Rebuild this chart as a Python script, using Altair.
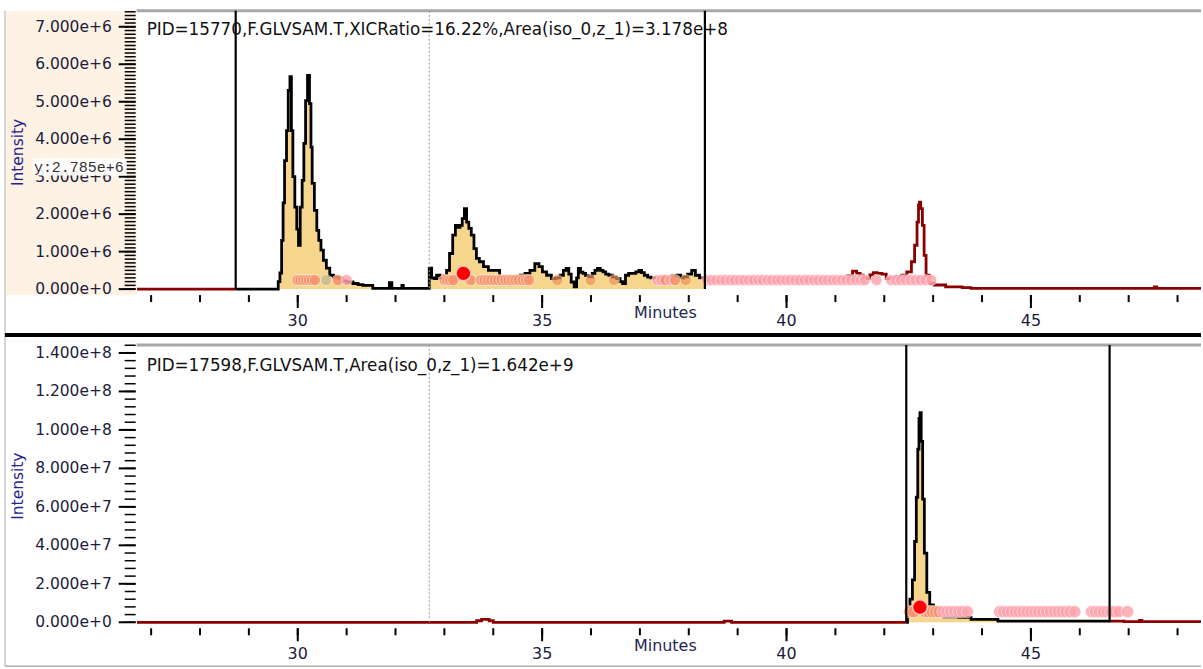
import altair as alt
import pandas as pd

# ---------------------------------------------------------------
# Extracted ion chromatograms, (minutes, intensity in units of 1e6)
# ---------------------------------------------------------------
xic1 = [
    (26.71, 0.0), (28.73, 0.0), (29.58, 0.0), (29.62, 0.2), (29.65, 0.43),
    (29.69, 1.3), (29.71, 2.3), (29.75, 3.43), (29.79, 4.23), (29.82, 5.3),
    (29.86, 5.67), (29.88, 4.23), (29.92, 3.0), (29.96, 2.19), (30.0, 1.6),
    (30.03, 1.17), (30.07, 2.19), (30.11, 2.9), (30.14, 3.89), (30.18, 5.03),
    (30.22, 5.7), (30.26, 4.95), (30.28, 3.79), (30.31, 2.82), (30.37, 2.1),
    (30.41, 1.57), (30.45, 1.3), (30.5, 1.04), (30.55, 0.77), (30.62, 0.56),
    (30.69, 0.37), (30.78, 0.32), (30.86, 0.29), (30.95, 0.22), (31.06, 0.19),
    (31.2, 0.15), (31.27, 0.12), (31.4, 0.1), (31.5, 0.1), (31.57, 0.02),
    (31.85, 0.02), (31.9, 0.17), (31.95, 0.02), (32.12, 0.02), (32.14, 0.1),
    (32.18, 0.02), (32.66, 0.02), (32.72, 0.56), (32.76, 0.3), (32.82, 0.28),
    (32.86, 0.37), (32.96, 0.29), (33.02, 0.35), (33.07, 0.5), (33.14, 0.95),
    (33.2, 1.44), (33.25, 1.7), (33.3, 1.65), (33.34, 1.7), (33.39, 1.88),
    (33.43, 2.15), (33.48, 1.79), (33.52, 1.62), (33.58, 1.44), (33.63, 1.08),
    (33.68, 0.82), (33.75, 0.73), (33.85, 0.6), (33.95, 0.5), (34.12, 0.5),
    (34.14, 0.3), (34.26, 0.28), (34.4, 0.3), (34.5, 0.33), (34.6, 0.37),
    (34.7, 0.42), (34.8, 0.5), (34.9, 0.68), (34.97, 0.6), (35.04, 0.46),
    (35.14, 0.37), (35.24, 0.28), (35.32, 0.3), (35.41, 0.37), (35.46, 0.5),
    (35.52, 0.55), (35.57, 0.4), (35.62, 0.19), (35.69, 0.06), (35.72, 0.3),
    (35.76, 0.55), (35.81, 0.45), (35.86, 0.42), (35.92, 0.36), (35.99, 0.33),
    (36.06, 0.42), (36.1, 0.5), (36.16, 0.55), (36.22, 0.5), (36.27, 0.46),
    (36.33, 0.4), (36.4, 0.37), (36.48, 0.32), (36.57, 0.28), (36.62, 0.2),
    (36.67, 0.15), (36.74, 0.37), (36.8, 0.42), (36.88, 0.42), (36.95, 0.46),
    (37.01, 0.5), (37.06, 0.44), (37.12, 0.37), (37.2, 0.32), (37.25, 0.3),
    (37.35, 0.3), (37.45, 0.26), (37.52, 0.28), (37.6, 0.3), (37.7, 0.35),
    (37.8, 0.37), (37.86, 0.3), (37.93, 0.33), (38.02, 0.4), (38.1, 0.5),
    (38.17, 0.37), (38.27, 0.3), (38.33, 0.3), (38.45, 0.25), (38.6, 0.22),
    (38.8, 0.26), (39.0, 0.22), (39.2, 0.24), (39.4, 0.2), (39.6, 0.26),
    (39.8, 0.22), (40.0, 0.28), (40.2, 0.24), (40.4, 0.22), (40.6, 0.26),
    (40.8, 0.24), (41.0, 0.28), (41.2, 0.3), (41.3, 0.36), (41.4, 0.48),
    (41.47, 0.42), (41.54, 0.37), (41.6, 0.3), (41.67, 0.28), (41.74, 0.38),
    (41.81, 0.44), (41.9, 0.42), (42.0, 0.4), (42.08, 0.28), (42.2, 0.3),
    (42.3, 0.33), (42.4, 0.37), (42.52, 0.46), (42.59, 0.73), (42.65, 1.17),
    (42.69, 1.79), (42.71, 2.25), (42.73, 2.32), (42.76, 2.15), (42.8, 1.7),
    (42.83, 0.9), (42.88, 0.37), (42.97, 0.15), (43.07, 0.11), (43.44, 0.06),
    (43.75, 0.04), (43.8, 0.02), (47.5, 0.02), (47.55, 0.06), (47.6, 0.02),
    (48.48, 0.02),
]

xic2 = [
    (26.71, 0.0), (33.6, 0.0), (33.72, 0.8), (33.8, 1.5), (33.88, 1.5),
    (33.95, 0.8), (34.05, 0.0), (38.7, 0.0), (38.75, 0.6), (38.85, 0.6),
    (38.9, 0.0), (42.45, 0.0), (42.5, 4.0), (42.55, 12.0), (42.6, 22.0),
    (42.64, 42.0), (42.67, 65.0), (42.7, 90.0), (42.72, 106.0), (42.74, 109.0),
    (42.77, 94.0), (42.8, 64.0), (42.84, 36.0), (42.9, 15.5), (42.96, 9.0),
    (43.05, 5.0), (43.15, 3.5), (43.3, 2.8), (43.75, 2.6), (43.8, 1.5),
    (44.3, 1.5), (44.35, 0.6), (46.61, 0.6), (47.2, 0.3), (47.24, 1.0),
    (47.3, 0.3), (48.48, 0.3),
]

# integration window (start, end) and the dotted reference time
window1 = [28.73, 38.33]
window2 = [42.45, 46.61]
ref_time = 32.69

# isotope-envelope scan markers: (minutes, kind)
scans1 = [
    (29.99, "s"), (30.05, "s"), (30.11, "s"), (30.17, "s"), (30.23, "s"),
    (30.29, "s"), (30.35, "s"), (30.58, "o"), (30.82, "s"), (31.0, "p"),
    (33.0, "s"), (33.06, "s"), (33.12, "s"), (33.18, "s"), (33.54, "s"),
    (33.75, "s"), (33.82, "s"), (33.89, "s"), (33.96, "s"), (34.03, "s"),
    (34.1, "s"), (34.17, "s"), (34.24, "s"), (34.31, "s"), (34.38, "s"),
    (34.45, "s"), (34.52, "s"), (34.6, "s"), (34.67, "s"), (34.73, "s"),
    (35.31, "r"), (35.99, "r"), (36.47, "r"), (37.36, "p"), (37.44, "p"),
    (37.52, "s"), (37.62, "p"), (37.72, "s"), (37.94, "r"), (38.37, "p"),
    (38.47, "p"), (38.56, "p"), (38.66, "p"), (38.75, "p"), (38.85, "p"),
    (38.94, "p"), (39.04, "p"), (39.13, "p"), (39.23, "p"), (39.32, "p"),
    (39.42, "p"), (39.51, "p"), (39.61, "p"), (39.7, "p"), (39.8, "p"),
    (39.89, "p"), (39.99, "p"), (40.08, "p"), (40.18, "p"), (40.27, "p"),
    (40.37, "p"), (40.46, "p"), (40.56, "p"), (40.65, "p"), (40.75, "p"),
    (40.84, "p"), (40.94, "p"), (41.03, "p"), (41.13, "p"), (41.22, "p"),
    (41.32, "p"), (41.42, "p"), (41.52, "p"), (41.6, "p"), (41.84, "p"),
    (42.14, "p"), (42.24, "p"), (42.34, "p"), (42.44, "p"), (42.54, "p"),
    (42.64, "p"), (42.74, "p"), (42.84, "p"), (42.96, "p"),
]
scans2 = [
    (42.52, "s"), (42.6, "s"), (42.84, "s"), (42.91, "s"), (42.98, "s"),
    (43.05, "s"), (43.12, "s"), (43.2, "p"), (43.28, "p"), (43.36, "p"),
    (43.44, "p"), (43.52, "p"), (43.6, "p"), (43.7, "p"), (44.36, "p"),
    (44.44, "p"), (44.52, "p"), (44.6, "p"), (44.68, "p"), (44.76, "p"),
    (44.84, "p"), (44.92, "p"), (45.0, "p"), (45.08, "p"), (45.16, "p"),
    (45.24, "p"), (45.32, "p"), (45.4, "p"), (45.48, "p"), (45.56, "p"),
    (45.64, "p"), (45.72, "p"), (45.8, "p"), (45.9, "p"), (46.24, "p"),
    (46.32, "p"), (46.4, "p"), (46.48, "p"), (46.56, "p"), (46.64, "p"),
    (46.72, "p"), (46.8, "p"), (46.98, "p"),
]
scan_level1 = 0.24      # 1e6
scan_level2 = 5.5       # 1e6
apex1 = (33.39, 0.42)   # selected scan, (minutes, 1e6)
apex2 = (42.73, 7.9)

titles = [
    "PID=15770,F.GLVSAM.T,XICRatio=16.22%,Area(iso_0,z_1)=3.178e+8",
    "PID=17598,F.GLVSAM.T,Area(iso_0,z_1)=1.642e+9",
]
cursor_text = "y:2.785e+6"

x_major = [30, 35, 40, 45]
x_minor = list(range(27, 49))
y1_major = [i * 1e6 for i in range(0, 8)]
y1_minor = [i * 1e5 for i in range(0, 75)]
y2_major = [i * 2e7 for i in range(0, 8)]
y2_minor = [i * 4e6 for i in range(0, 37)]

# ---------------------------------------------------------------
W = 1067
FONT = "DejaVu Sans"
INK = "#1c1c3c"
X_DOMAIN = [26.704, 48.48]
kind_domain = ["s", "p", "o", "r"]
kind_colors = ["#F7946C", "#FFA3AD", "#C4B98C", "#EE9458"]
kind_opacity = [0.9, 0.7, 0.95, 0.95]


def split_trace(trace, lo, hi):
    rows = []
    for t, v in trace:
        if t <= lo:
            rows.append({"t": t, "v": v * 1e6, "seg": "pre"})
        if lo <= t <= hi:
            rows.append({"t": t, "v": v * 1e6, "seg": "in"})
        if t >= hi:
            rows.append({"t": t, "v": v * 1e6, "seg": "post"})
    return pd.DataFrame(rows)


def one():
    return pd.DataFrame({"a": [0]})


def panel(trace, window, scans, scan_level, apex, title, ydom, ymaj, ymin_ticks,
          H, dot_size, beige, cursor, separator, title_y):
    xs = alt.Scale(domain=X_DOMAIN, nice=False, zero=False)
    ys = alt.Scale(domain=ydom, nice=False, zero=False)
    df = split_trace(trace, window[0], window[1])
    df_in = df[df.seg == "in"]
    df_out = df[df.seg != "in"]
    xnone = alt.X("t:Q", scale=xs, axis=None)
    ynone = alt.Y("v:Q", scale=ys, axis=None)

    layers = []
    if beige:
        layers.append(alt.Chart(one()).mark_rect(color="#FDF2E3").encode(
            x=alt.value(-131), x2=alt.value(0), y=alt.value(0), y2=alt.value(H + 1)))
    # window edge lines
    layers.append(alt.Chart(one()).mark_rule(color="#C8C8C8", strokeWidth=1.5).encode(
        x=alt.value(-132), y=alt.value(-12 if separator else 0), y2=alt.value(H + 39)))
    if separator:
        layers.append(alt.Chart(one()).mark_rule(color="black", strokeWidth=4).encode(
            x=alt.value(-132), x2=alt.value(W), y=alt.value(-10)))
        layers.append(alt.Chart(one()).mark_rule(color="#B0B0B0", strokeWidth=1.5).encode(
            x=alt.value(-132), x2=alt.value(W), y=alt.value(H + 39)))
    # plot frame top edge
    layers.append(alt.Chart(one()).mark_rule(color="#A8A8A8", strokeWidth=3).encode(
        x=alt.value(0), x2=alt.value(W), y=alt.value(0)))

    # integrated area
    layers.append(alt.Chart(df_in).mark_area(interpolate="step", color="#F6D68C", clip=True).encode(
        x=alt.X("t:Q", scale=xs, axis=alt.Axis(
            labels=False, ticks=False, domainColor="black", domainWidth=3,
            grid=False, title=None, zindex=1)),
        y=alt.Y("v:Q", scale=ys, axis=alt.Axis(
            labels=False, ticks=False, domainColor="black", domainWidth=3,
            grid=False, title=None, zindex=1)),
        y2=alt.datum(0)))
    # chromatogram trace: outside the window in dark red, inside in black
    layers.append(alt.Chart(df_out).mark_line(
        interpolate="step", strokeWidth=2.8, clip=True, color="#8B0000").encode(
        x=xnone, y=ynone, detail="seg:N"))
    layers.append(alt.Chart(df_in).mark_line(
        interpolate="step", strokeWidth=2.8, clip=True, color="#000000").encode(
        x=xnone, y=ynone))

    # scan markers
    sdf = pd.DataFrame({"t": [s[0] for s in scans], "kind": [s[1] for s in scans]})
    sdf["v"] = scan_level * 1e6
    layers.append(alt.Chart(sdf).mark_circle(size=dot_size, stroke="white", strokeWidth=0.6).encode(
        x=xnone, y=ynone,
        color=alt.Color("kind:N", scale=alt.Scale(domain=kind_domain, range=kind_colors), legend=None),
        opacity=alt.Opacity("kind:N", scale=alt.Scale(domain=kind_domain, range=kind_opacity), legend=None)))
    adf = pd.DataFrame({"t": [apex[0]], "v": [apex[1] * 1e6]})
    layers.append(alt.Chart(adf).mark_circle(size=220, color="#FF0000", opacity=1,
                                             stroke="#FFC4C4", strokeWidth=1.5).encode(
        x=xnone, y=ynone))

    # integration window bounds and reference time
    wdf = pd.DataFrame({"t": window})
    layers.append(alt.Chart(wdf).mark_rule(color="black", strokeWidth=2.2).encode(
        x=xnone, y=alt.datum(ydom[1]), y2=alt.datum(0)))
    layers.append(alt.Chart(pd.DataFrame({"t": [ref_time]})).mark_rule(
        color="#9A9A9A", strokeWidth=1, strokeDash=[2, 2]).encode(
        x=xnone, y=alt.datum(ydom[1]), y2=alt.datum(0)))

    # axis ticks and tick labels
    layers.append(alt.Chart(pd.DataFrame({"t": x_minor})).mark_rule(color="black", strokeWidth=2).encode(
        x=xnone, y=alt.value(H + 1), y2=alt.value(H + 8)))
    layers.append(alt.Chart(pd.DataFrame({"t": x_major})).mark_rule(color="black", strokeWidth=2).encode(
        x=xnone, y=alt.value(H + 1), y2=alt.value(H + 14)))
    layers.append(alt.Chart(pd.DataFrame({"t": x_major})).mark_text(
        align="center", baseline="middle", font=FONT, fontSize=16, color=INK).encode(
        x=xnone, y=alt.value(H + 27), text=alt.Text("t:Q", format="d")))
    layers.append(alt.Chart(pd.DataFrame({"v": ymin_ticks})).mark_rule(color="black", strokeWidth=1.5).encode(
        y=ynone, x=alt.value(-12), x2=alt.value(-1)))
    layers.append(alt.Chart(pd.DataFrame({"v": ymaj})).mark_rule(color="black", strokeWidth=2).encode(
        y=ynone, x=alt.value(-18), x2=alt.value(-1)))
    layers.append(alt.Chart(pd.DataFrame({"v": ymaj})).mark_text(
        align="right", baseline="middle", font=FONT, fontSize=15.5, color=INK).encode(
        y=ynone, x=alt.value(-25), text=alt.Text("v:Q", format=".3e")))

    # texts
    layers.append(alt.Chart(one()).mark_text(
        align="left", baseline="middle", font=FONT, fontSize=16.8, color="#111111").encode(
        x=alt.value(10), y=alt.value(title_y), text=alt.value(title)))
    layers.append(alt.Chart(one()).mark_text(
        align="center", baseline="middle", angle=270, font=FONT, fontSize=15.5, color="#24248C").encode(
        x=alt.value(-119), y=alt.value(H / 2), text=alt.value("Intensity")))
    layers.append(alt.Chart(one()).mark_text(
        align="center", baseline="middle", font=FONT, fontSize=16, color="#1E2850").encode(
        x=alt.value(530), y=alt.value(H + 19), text=alt.value("Minutes")))
    if cursor:
        layers.append(alt.Chart(one()).mark_rect(color="white", opacity=0.9).encode(
            x=alt.value(-104), x2=alt.value(-10), y=alt.value(148), y2=alt.value(165)))
        layers.append(alt.Chart(one()).mark_text(
            align="left", baseline="middle", font="Liberation Mono", fontSize=15, color="#333333").encode(
            x=alt.value(-103), y=alt.value(156.5), text=alt.value(cursor_text)))

    return alt.layer(*layers).properties(width=W, height=H)


top = panel(xic1, window1, scans1, scan_level1, apex1, titles[0],
            [-0.133e6, 7.426e6], y1_major, y1_minor, 284, 125, True, True, False, 19.5)
bottom = panel(xic2, window2, scans2, scan_level2, apex2, titles[1],
               [-2.593e6, 1.4415e8], y2_major, y2_minor, 283, 150, False, False, True, 21)

chart = alt.vconcat(top, bottom, spacing=51, bounds="flush").properties(
    padding={"left": 3, "top": 8, "right": 0, "bottom": 0},
    background="white",
).configure_view(stroke=None)

chart.save("out.html", embed_options={"renderer": "svg", "actions": False})
